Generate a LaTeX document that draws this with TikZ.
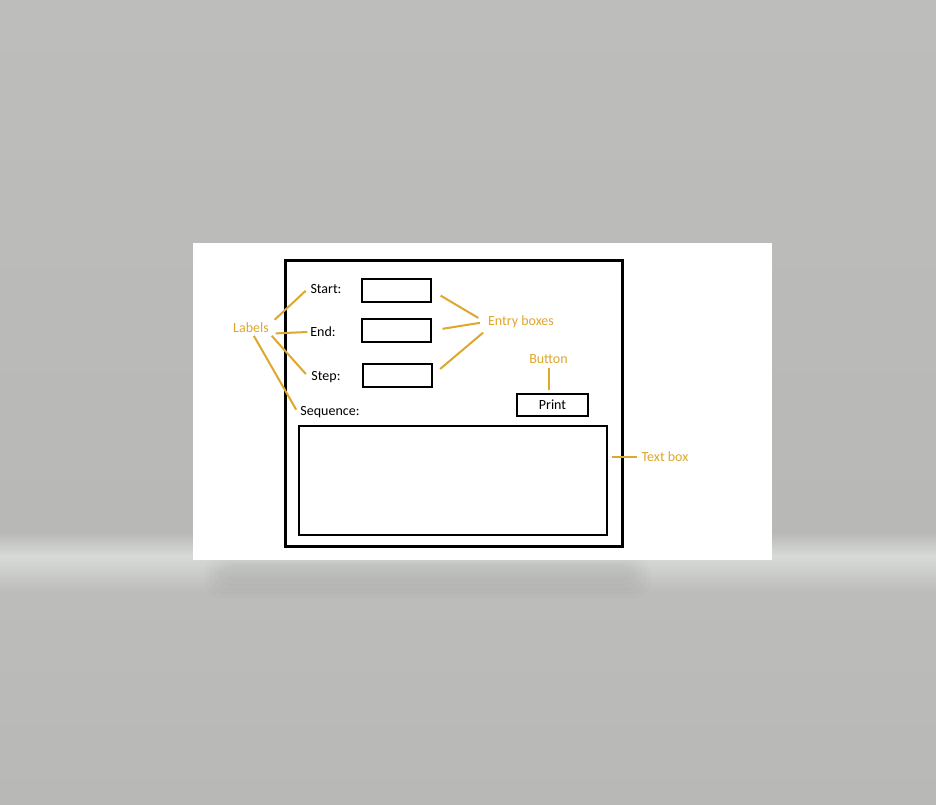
\documentclass[tikz,border=0pt]{standalone}
\usepackage{fontspec}
\setmainfont{Carlito}
\usepackage{tikz}
\usetikzlibrary{calc}
\usetikzlibrary{positioning}
\definecolor{hint}{RGB}{222,167,45}
\definecolor{bgtop}{RGB}{189,190,187}
\definecolor{bgmid}{RGB}{184,185,182}
\definecolor{bglight}{RGB}{216,218,215}
\definecolor{bglow}{RGB}{188,189,186}

\begin{document}
\begin{tikzpicture}[x=0.75pt,y=-0.75pt,inner sep=2pt,
    font=\fontsize{10.5}{12}\selectfont,
    box/.style={draw,line width=1.5pt,minimum width=69*0.75pt,minimum height=23*0.75pt},
    lead/.style={draw=hint,line width=1.5pt},
    note/.style={text=hint}]
    % \draw[help lines] (0,0) grid[step=50] (936,804);
    \useasboundingbox (0,0) rectangle (936,804);
    \shade[top color=bgtop,bottom color=bgmid] (0,0) rectangle (936,532);
    \shade[top color=bgmid,bottom color=bglight] (0,532) rectangle (936,556);
    \shade[top color=bglight,bottom color=bglow] (0,556) rectangle (936,592);
    \shade[top color=bglow,bottom color=bgmid] (0,592) rectangle (936,804);
    \foreach \d in {0,4,...,16}
      \fill[black,opacity=0.012,rounded corners=12pt] (205+\d,556+\d/2) rectangle (650-\d,598-\d);
    \fill[white] (193,243) rectangle (772,560);
    \draw[line width=2.25pt] (285,260) rectangle (622,546);

    \node              (start) at (326,289) {Start:};
    \node              (end)   at (323,332) {End:};
    \node              (step)  at (326,377) {Step:};
    \node              (seq)   at (330,412) {Sequence:};
    \node[box]         (e1)    at (396.5,290.5) {};
    \node[box]         (e2)    at (396.5,330.5) {};
    \node[box]         (e3)    at (397.5,375)   {};
    \node[box,minimum width=71*0.75pt,minimum height=22*0.75pt]
                       (print) at (552.5,405) {Print};
    \node[draw,line width=1.5pt,minimum width=308*0.75pt,minimum height=109*0.75pt]
                       (tbox)  at (453,480.5) {};

    \node[note]        (labels) at (251,328) {Labels};
    \node[note]        (entry)  at (521,322) {Entry boxes};
    \node[note]        (btn)    at (548.5,359) {Button};
    \node[note]        (txt)    at (665,457) {Text box};

    \path[lead]
    (labels.15)         edge[shorten <=3pt,shorten >=2pt] (start.west)
    (labels.-15)        edge[shorten <=3pt]  (end.west)
    (labels.south east) edge[shorten >=3pt]  (step.west)
    (labels.-70)        edge[shorten >=2pt]  (seq.west)
    (e1.east)           edge[shorten <=7.5pt,shorten >=6pt] (entry.west)
    (e2.east)           edge[shorten <=8pt,shorten >=4pt] (entry.west)
    (e3.east)           edge[shorten <=7pt,shorten >=2pt] (entry.south west)
    (btn.south)         edge[shorten <=1pt,shorten >=2pt] (btn.south |- print.north)
    (txt.west)          edge[shorten <=1pt,shorten >=3pt] (txt.west -| tbox.east);
  \end{tikzpicture}
\end{document}
